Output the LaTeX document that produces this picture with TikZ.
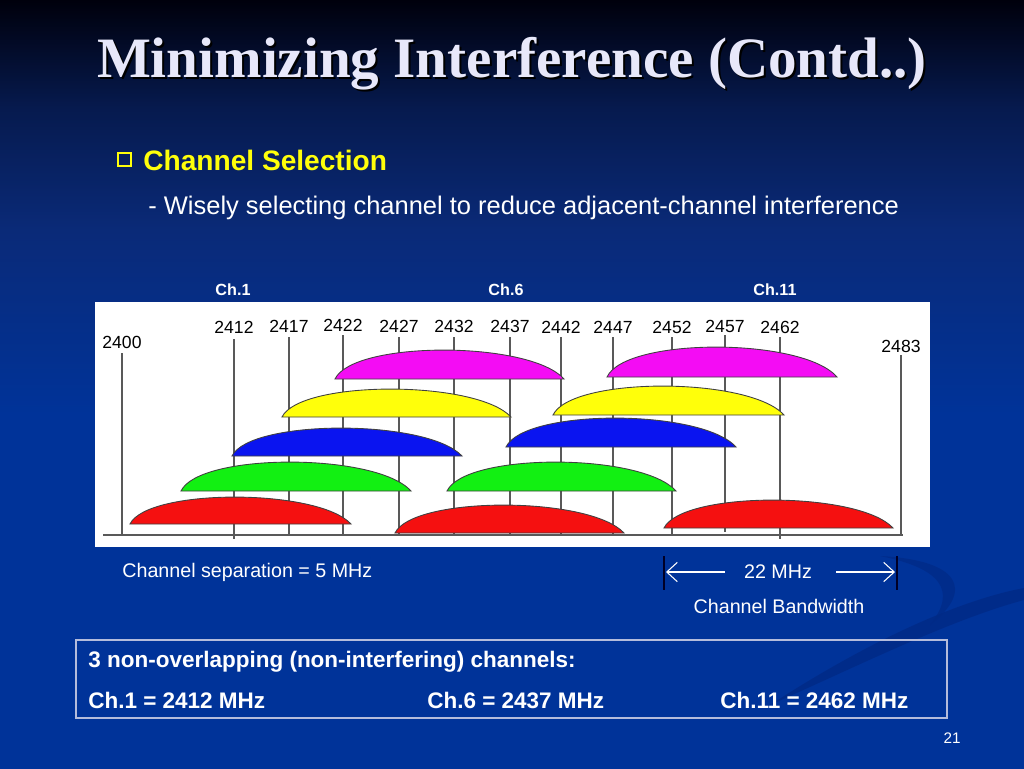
\documentclass[tikz,border=0pt]{standalone}
\usepackage{fontspec}
\setmainfont{Liberation Sans}
\newfontfamily\titlefont{Liberation Serif}
\usetikzlibrary{arrows.meta}

\definecolor{bgtop}{HTML}{00000C}
\definecolor{bgdark}{HTML}{061A4E}
\definecolor{bgmid}{HTML}{0A2A78}
\definecolor{bgblue}{HTML}{003399}
\definecolor{titlecol}{HTML}{E8E8FA}
\definecolor{chmagenta}{HTML}{F40CF4}
\definecolor{chyellow}{HTML}{FFFF0A}
\definecolor{chblue}{HTML}{0A14F0}
\definecolor{chgreen}{HTML}{12F012}
\definecolor{chred}{HTML}{F51010}
\definecolor{boxline}{HTML}{B4BCDC}
\definecolor{swoosh}{HTML}{002A86}

\pgfdeclareverticalshading{slidebg}{100bp}{color(0bp)=(bgblue); color(25bp)=(bgblue); color(48bp)=(bgblue); color(60bp)=(bgmid); color(68bp)=(bgdark); color(75bp)=(bgtop); color(100bp)=(bgtop)}

\tikzset{
  freqlabel/.style={font=\fontsize{10}{11}\selectfont, text=black, inner sep=1pt},
  gridline/.style={draw=black!65, line width=0.6pt},
  dome/.style={draw=black!75, line width=0.5pt},
  chlabel/.style={font=\bfseries\fontsize{9.2}{10}\selectfont, text=white, inner sep=1pt},
  slidetext/.style={text=white, inner sep=0pt, anchor=west},
  bwarrow/.style={draw=white, line width=0.6pt, -{Straight Barb[length=6pt,width=11pt]}},
  bwbar/.style={draw=black!85!blue, line width=1.3pt}
}

\newcommand{\chfreq}[5] {\node at (#1,#2) (f#5) [freqlabel] {#5}; \coordinate (t#5) at (#1,#3); \coordinate (b#5) at (#1,#4); \draw [gridline] (t#5) -- (b#5);}
\newcommand{\chdome}[6] {\coordinate (#1l) at (#2,#4); \coordinate (#1r) at (#3,#4);
  \filldraw [dome, fill=#6] (#1l) .. controls ({#2+0.08*(#3-#2)},{#4-1.33*#5}) and ({#2+0.85*(#3-#2)},{#4-1.33*#5}) .. (#1r) -- cycle;}

\begin{document}
\begin{tikzpicture}[x=0.02cm, y=-0.02cm]
\useasboundingbox (0,0) rectangle (1024,768);
\shade [shading=slidebg] (0,0) rectangle (1024,768);
% background swoosh
\fill [swoosh, opacity=0.8] (770,705) .. controls (870,640) and (960,600) .. (1024,588) -- (1024,600) .. controls (950,620) and (860,665) .. (770,705) -- cycle;
\fill [swoosh, opacity=0.7] (880,556) .. controls (960,560) and (975,590) .. (930,625) .. controls (958,590) and (940,568) .. (880,556) -- cycle;

% title
\node at (514,79) (titleshadow) [anchor=base, text=black, font=\titlefont\bfseries\fontsize{32.5}{36}\selectfont] {Minimizing Interference (Contd..)};
\node at (512,77) (title) [anchor=base, text=titlecol, font=\titlefont\bfseries\fontsize{32.5}{36}\selectfont] {Minimizing Interference (Contd..)};

\draw [chyellow, line width=1pt] (118,153) rectangle (131,166);
\node at (143,160) (sel) [slidetext, text=chyellow, font=\bfseries\fontsize{16}{18}\selectfont] {Channel Selection};
\node at (148,208) (wisely) [slidetext, font=\fontsize{14.5}{16}\selectfont] {- Wisely selecting channel to reduce adjacent-channel interference};

\node at (233,290) (ch1) [chlabel] {Ch.1};
\node at (506,290) (ch6) [chlabel] {Ch.6};
\node at (775,290) (ch11) [chlabel] {Ch.11};

% spectrum chart
\fill [white] (95,302) rectangle (930,547);
\chfreq {122}{342}{353}{535}{2400};
\chfreq {234}{327}{339}{539}{2412};
\chfreq {289}{326}{337}{535}{2417};
\chfreq {343}{325}{335}{535}{2422};
\chfreq {399}{326}{337}{535}{2427};
\chfreq {454}{326}{337}{535}{2432};
\chfreq {510}{326}{337}{535}{2437};
\chfreq {561}{327}{337}{535}{2442};
\chfreq {613}{327}{337}{535}{2447};
\chfreq {672}{327}{337}{535}{2452};
\chfreq {725}{326}{335}{532}{2457};
\chfreq {780}{327}{337}{539}{2462};
\chfreq {901}{346}{355}{535}{2483};
\coordinate (base0) at (103,535);
\coordinate (base1) at (903,535);
\draw [gridline] (base0) -- (base1);

\chdome {mag1}{335}{564}{379}{29}{chmagenta};
\chdome {mag2}{607}{837}{377}{30}{chmagenta};
\chdome {yel1}{282}{511}{417}{28}{chyellow};
\chdome {yel2}{553}{784}{415}{29}{chyellow};
\chdome {blu1}{232}{462}{456}{28}{chblue};
\chdome {blu2}{506}{736}{447}{29}{chblue};
\chdome {grn1}{181}{411}{491}{29}{chgreen};
\chdome {grn2}{447}{676}{491}{29}{chgreen};
\chdome {red1}{130}{351}{524}{27}{chred};
\chdome {red6}{395}{624}{533}{28}{chred};
\chdome {red11}{664}{893}{528}{28}{chred};

% bandwidth
\node at (122,572) (sep) [slidetext, font=\fontsize{11.2}{13}\selectfont] {Channel separation = 5 MHz};
\node at (778,572) (bw) [text=white, inner sep=0pt, font=\fontsize{11.2}{13}\selectfont] {22 MHz};
\node at (779,606) (bwname) [text=white, inner sep=0pt, font=\fontsize{11.2}{13}\selectfont] {Channel Bandwidth};
\coordinate (barLt) at (664,556);
\coordinate (barLb) at (664,590);
\coordinate (barRt) at (897,556);
\coordinate (barRb) at (897,590);
\draw [bwbar] (barLt) -- (barLb);
\draw [bwbar] (barRt) -- (barRb);
\coordinate (arrL) at (725,572);
\coordinate (arrR) at (836,572);
\coordinate (endL) at (666,572);
\coordinate (endR) at (895,572);
\draw [bwarrow] (arrL) -- (endL);
\draw [bwarrow] (arrR) -- (endR);

% summary box
\draw [boxline, line width=0.8pt] (76,640) rectangle (947,718);
\node at (88,662) (non) [slidetext, font=\bfseries\fontsize{12.8}{14}\selectfont] {3 non-overlapping (non-interfering) channels:};
\node at (88,700) (sum1) [slidetext, font=\bfseries\fontsize{12.8}{14}\selectfont] {Ch.1 = 2412 MHz};
\node at (427,700) (sum6) [slidetext, font=\bfseries\fontsize{12.8}{14}\selectfont] {Ch.6 = 2437 MHz};
\node at (720,700) (sum11) [slidetext, font=\bfseries\fontsize{12.8}{14}\selectfont] {Ch.11 = 2462 MHz};

\node at (952,738) (page) [text=white, inner sep=0pt, font=\fontsize{8.7}{10}\selectfont] {21};
\end{tikzpicture}
\end{document}
